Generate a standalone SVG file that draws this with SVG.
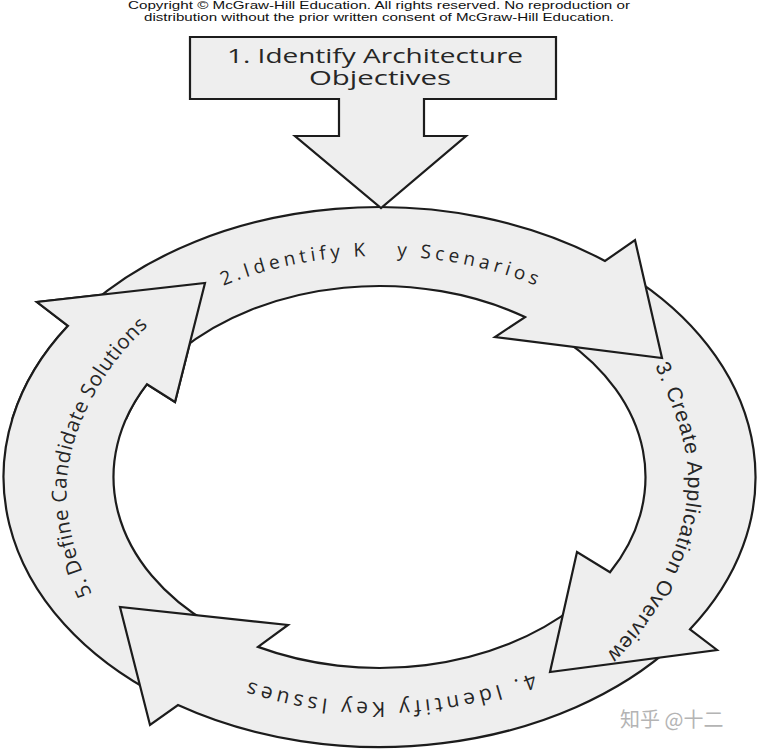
<svg xmlns="http://www.w3.org/2000/svg" xmlns:xlink="http://www.w3.org/1999/xlink" width="758" height="750" viewBox="0 0 758 750">
<style>
.shape{fill:#eeeeee;stroke:#1c1c1c;stroke-width:2.2;stroke-linejoin:miter}
.lbl{fill:#262626;font-family:"Open Sans","Liberation Sans",sans-serif;font-variant-ligatures:none}
.lbl3{fill:#262626;font-family:"Liberation Sans",Arial,sans-serif;font-variant-ligatures:none}
.copy{fill:#111;font-family:"Liberation Sans",Arial,sans-serif;font-size:11.5px;text-anchor:middle}
.wm{fill:#b4b4b4;font-family:"Noto Sans CJK SC",sans-serif;font-size:20px}
</style>
<defs>
<path id="tp2" d="M 67.5,477 A 312 221 0 0 1 691.5,477"/>
<path id="tp3" d="M 655,366 C 670,400 688,440 688,480 C 688,540 650,615 600,660"/>
<path id="tp4" d="M 691.5,477 A 312 225 0 0 1 67.5,477"/>
<path id="tp5" d="M 92,594 C 74,556 62,508 68,470 C 74,420 110,355 158,318"/>
<clipPath id="c5"><rect x="0" y="260" width="240" height="160"/></clipPath>
</defs>
<rect width="758" height="750" fill="#ffffff"/>
<text class="copy" x="379" y="9" textLength="502" lengthAdjust="spacingAndGlyphs">Copyright © McGraw-Hill Education. All rights reserved. No reproduction or</text>
<text class="copy" x="379" y="21" textLength="470" lengthAdjust="spacingAndGlyphs">distribution without the prior written consent of McGraw-Hill Education.</text>

<g id="step5">
<path class="shape" d="M 160,696.2 A 376 270 0 0 1 68,325.8 L 37,302 L 205,283 L 175,402 L 147,384.2 A 266 191 0 0 0 210,624.2 Z"/>
<text class="lbl" font-size="20.5"><textPath href="#tp5" textLength="296" lengthAdjust="spacing">5. Define Candidate Solutions</textPath></text>
</g>
<g id="step4">
<path class="shape" d="M 675,643.9 A 376 270 0 0 1 178,705 L 150,725 L 120,607 L 288,625 L 258,646.9 A 266 191 0 0 0 575,606.5 Z"/>
<text class="lbl" font-size="21" text-anchor="middle"><textPath href="#tp4" startOffset="412" textLength="290" lengthAdjust="spacing">4. Identify Key Issues</textPath></text>
</g>
<g id="step3">
<path class="shape" d="M 640,282.3 A 376 270 0 0 1 690,629.3 L 717,650 L 550,672 L 577,552 L 610,572.3 A 266 191 0 0 0 565,340.1 Z"/>
<text class="lbl3" font-size="21"><textPath href="#tp3" textLength="316" lengthAdjust="spacing">3. Create Application Overview</textPath></text>
</g>
<g id="step2">
<path class="shape" d="M 90,304.7 A 376 270 0 0 1 605,261 L 635,240 L 662,358 L 495,337 L 525,317.1 A 266 191 0 0 0 180,350.7 Z"/>
<text class="lbl" font-size="19" text-anchor="middle" xml:space="preserve"><textPath href="#tp2" startOffset="50%" textLength="320" lengthAdjust="spacing">2.Identify K   y Scenarios</textPath></text>
</g>
<g id="step5-head">
<use href="#step5" clip-path="url(#c5)"/>
</g>
<g id="step1">
<path class="shape" d="M 190,37 H 556 V 99 H 424 V 136 H 466 L 381,208 L 295,136 H 339 V 99 H 190 Z"/>
<text class="lbl" font-size="19.5" x="375" y="63" text-anchor="middle" textLength="296" lengthAdjust="spacingAndGlyphs">1. Identify Architecture</text>
<text class="lbl" font-size="19.5" x="380" y="84.5" text-anchor="middle" textLength="142" lengthAdjust="spacingAndGlyphs">Objectives</text>
</g>
<text class="wm" x="620" y="727">知乎 @十二</text>
</svg>
